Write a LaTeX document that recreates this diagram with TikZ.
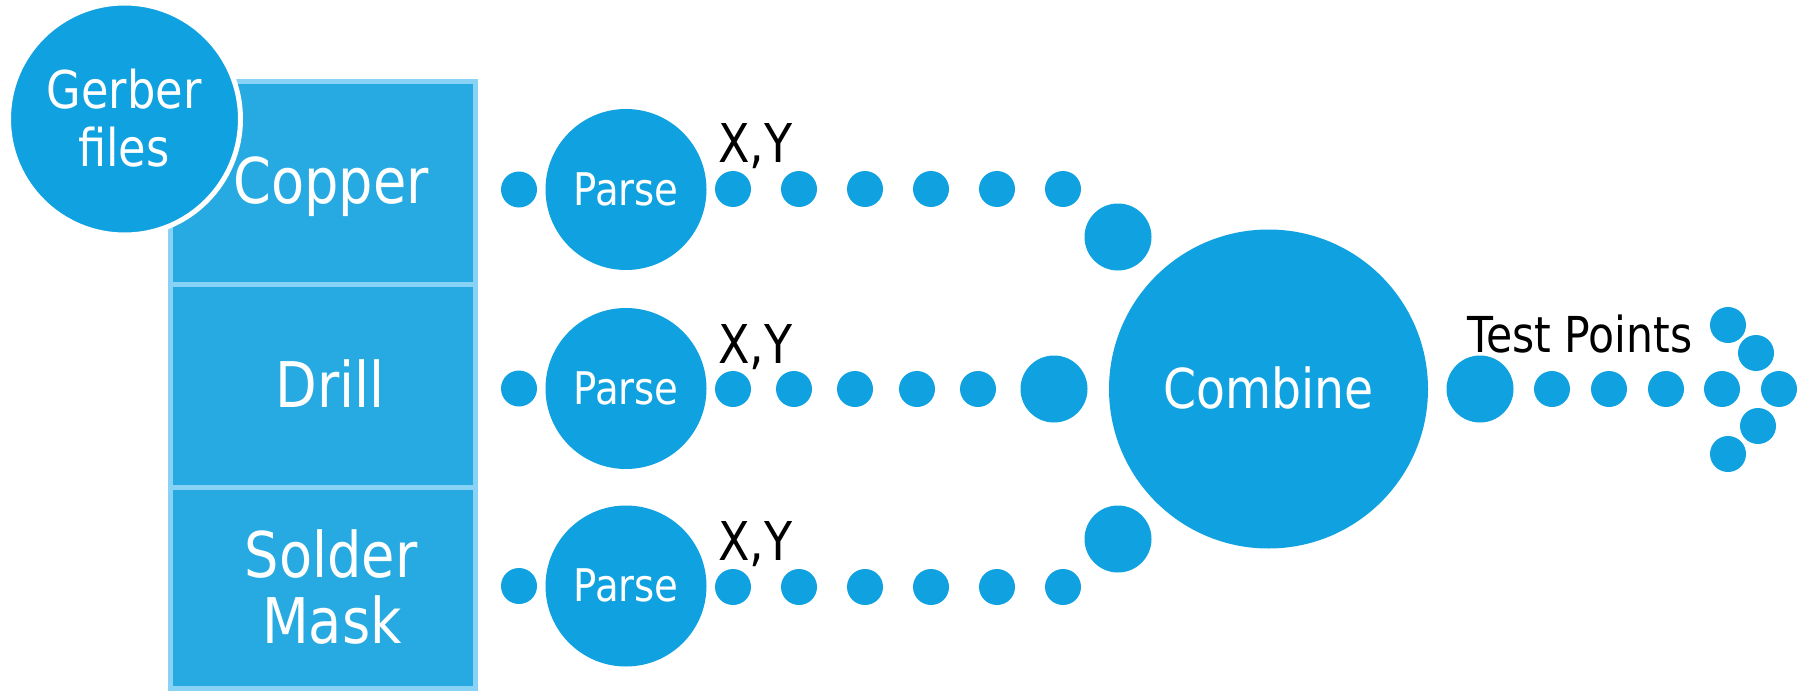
\documentclass[tikz,border=0pt]{standalone}
\usepackage{fontspec}
\setmainfont{DejaVu Sans}[FakeStretch=0.86]
\definecolor{flowblue}{HTML}{10A2E0}
\definecolor{layerfill}{HTML}{27AAE1}
\definecolor{layeredge}{HTML}{88D3F5}
\tikzset{
  layerbox/.style={rectangle, draw=layeredge, fill=layerfill, line width=5pt,
    minimum width=305pt, inner sep=0pt},
  layertext/.style={text=white, inner sep=0pt, anchor=base,
    font=\fontsize{63}{66}\selectfont},
  dot/.style={circle, fill=flowblue, minimum size=36pt, inner sep=0pt},
  bigdot/.style={circle, fill=flowblue, minimum size=67pt, inner sep=0pt},
  stage/.style={circle, fill=flowblue, inner sep=0pt, text=white, text depth=0pt},
  coord/.style={inner sep=0pt, anchor=base west, text=black,
    font=\fontsize{53.5}{60}\selectfont},
}
\begin{document}
\begin{tikzpicture}[x=1pt, y=-1pt]
\useasboundingbox (0,0) rectangle (1807,693);

% stacked layer boxes
\node[layerbox, minimum height=203pt] (copperbox) at (323,183) {};
\node[layerbox, minimum height=203pt] (drillbox)  at (323,386) {};
\node[layerbox, minimum height=201pt] (maskbox)   at (323,588) {};
\node[layertext] (coppertxt) at (331,203) {Copper};
\node[layertext] (drilltxt)  at (330,407) {Drill};
\node[layertext] (soldertxt) at (331,577) {Solder};
\node[layertext] (masktxt)   at (332,643) {Mask};

% input files badge
\node[circle, fill=flowblue, draw=white, line width=5pt, minimum size=232pt,
  inner sep=0pt] (gerber) at (124.5,119) {};
\node[inner sep=0pt, anchor=base, text=white, font=\fontsize{52}{58}\selectfont]
  (gerbertxtA) at (124,108) {Gerber};
\node[inner sep=0pt, anchor=base, text=white, font=\fontsize{52}{58}\selectfont]
  (gerbertxtB) at (124,166) {files};

% parse stages, one per layer
\foreach \i/\y/\h in {1/189.5/31pt, 2/388.5/31pt, 3/586/31pt}{
  \node[dot] (in\i) at (519,\y) {};
  \node[stage, minimum size=161pt, text height=\h,
    font=\fontsize{45}{50}\selectfont] (parse\i) at (626,\y) {Parse};
}

% coordinate streams
\foreach \j/\x in {1/733,2/799,3/865,4/931,5/997,6/1063}{
  \node[dot] (a\j) at (\x,189) {};
  \node[dot] (c\j) at (\x,587) {};
}
\foreach \j/\x in {1/733,2/794,3/855,4/917,5/978}{
  \node[dot] (b\j) at (\x,389) {};
}
\node[bigdot] (abig) at (1118,237) {};
\node[bigdot] (bbig) at (1054,389) {};
\node[bigdot] (cbig) at (1118,539) {};

\node[coord] (xy1) at (718,162) {X,Y};
\node[coord] (xy2) at (718,363) {X,Y};
\node[coord] (xy3) at (718,560) {X,Y};

% merge stage
\node[stage, minimum size=319pt, text height=38pt,
  font=\fontsize{55}{60}\selectfont] (combine) at (1268.5,389) {Combine};

% output arrow of dots
\node[bigdot] (obig) at (1480,389) {};
\foreach \j/\x in {1/1552,2/1609,3/1666,4/1722,5/1779}{
  \node[dot] (o\j) at (\x,389) {};
}
\node[dot] (head1) at (1728,325) {};
\node[dot] (head2) at (1756,353) {};
\node[dot] (head3) at (1758,426) {};
\node[dot] (head4) at (1728,454) {};
\node[inner sep=0pt, anchor=base west, text=black,
  font=\fontsize{49.5}{55}\selectfont] (testpts) at (1467,352) {Test Points};
\end{tikzpicture}
\end{document}
